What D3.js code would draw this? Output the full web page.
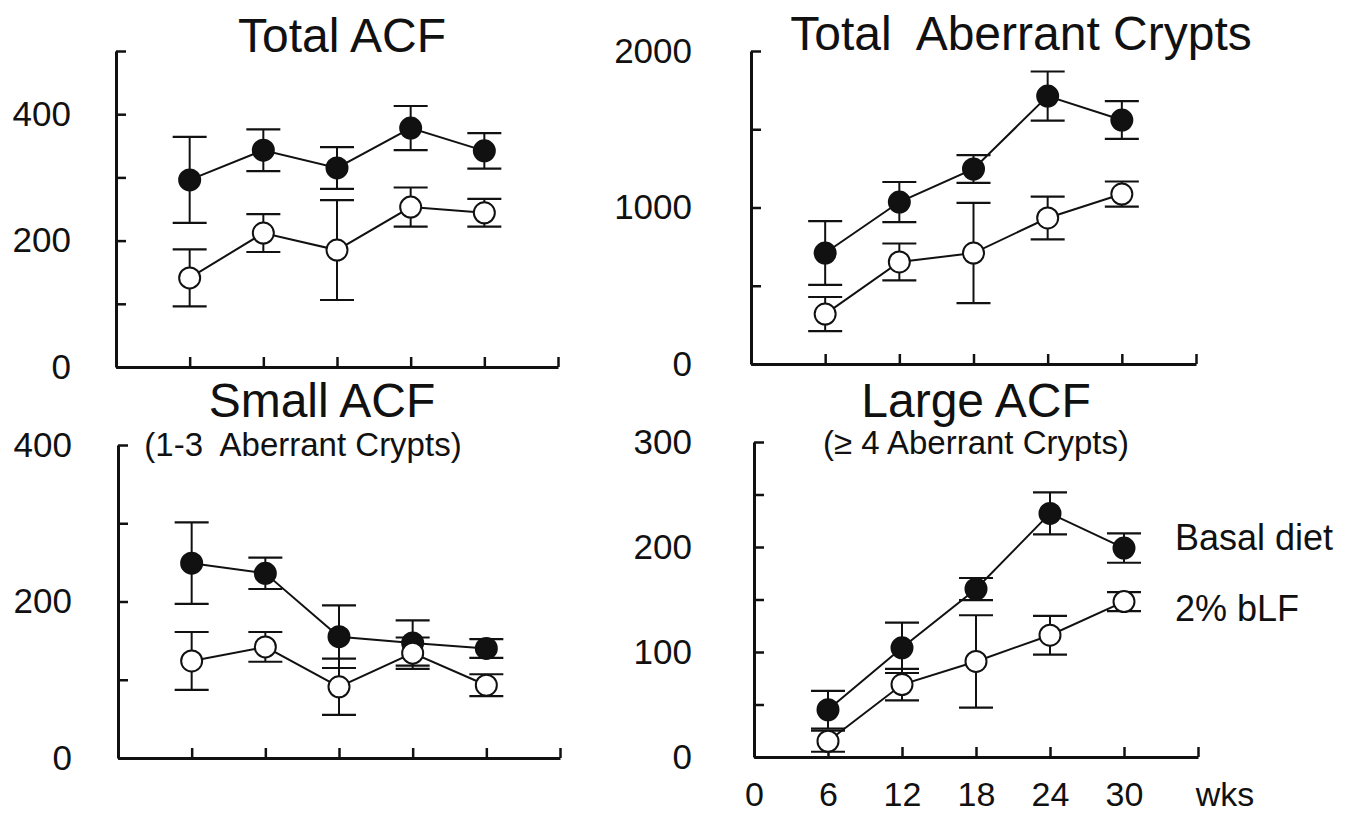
<!DOCTYPE html>
<html>
<head>
<meta charset="utf-8">
<script src="https://cdn.jsdelivr.net/npm/d3@7"></script>
<style>
  html, body { margin: 0; padding: 0; background: #fff; }
  svg { display: block; }
  text { font-family: "Liberation Sans", Arial, Helvetica, sans-serif; fill: #111; }
</style>
</head>
<body>
<svg id="chart" width="1365" height="818"></svg>
<script>
// ---------- data ----------
const weeks = [6, 12, 18, 24, 30];
const seriesNames = ["Basal diet", "2% bLF"];

const totalAcfBasal   = [296, 343, 315, 378, 342];
const totalAcfBasalSd = [68, 33, 33, 35, 28];
const totalAcfBlf     = [141, 212, 185, 253, 244];
const totalAcfBlfSd   = [45, 30, 79, 31, 22];

const totalAcBasal    = [709, 1035, 1246, 1712, 1559];
const totalAcBasalSd  = [204, 128, 89, 157, 121];
const totalAcBlf      = [319, 652, 709, 933, 1086];
const totalAcBlfSd    = [109, 118, 320, 137, 80];

const smallAcfBasal   = [249, 236, 155, 147, 140];
const smallAcfBasalSd = [52, 20, 40, 29, 12];
const smallAcfBlf     = [124, 142, 91, 134, 93];
const smallAcfBlfSd   = [37, 19, 36, 20, 14];

const largeAcfBasal   = [45, 104, 160, 232, 199];
const largeAcfBasalSd = [18, 24, 10.5, 20, 14];
const largeAcfBlf     = [15, 69, 91, 116, 148];
const largeAcfBlfSd   = [10, 15, 44, 18.5, 9];

const xTickValues = [6, 12, 18, 24, 30, 36];
const xLabelValues = [0, 6, 12, 18, 24, 30];

// ---------- layout ----------
const panels = [
  { title: "Total ACF", sub: null, basal: totalAcfBasal, basalSd: totalAcfBasalSd, blf: totalAcfBlf, blfSd: totalAcfBlfSd,
    yMax: 500, yStep: 100, yLabels: [0, 200, 400],
    x0: 116, x1: 558, y0: 367, y1: 51, labelPad: 45, titleX: 342, titleY: 52, subY: 0 },
  { title: "Total  Aberrant Crypts", sub: null, basal: totalAcBasal, basalSd: totalAcBasalSd, blf: totalAcBlf, blfSd: totalAcBlfSd,
    yMax: 2000, yStep: 500, yLabels: [0, 1000, 2000],
    x0: 751, x1: 1196, y0: 364, y1: 51, labelPad: 59, titleX: 1021, titleY: 50, subY: 0 },
  { title: "Small ACF", sub: "(1-3  Aberrant Crypts)", basal: smallAcfBasal, basalSd: smallAcfBasalSd, blf: smallAcfBlf, blfSd: smallAcfBlfSd,
    yMax: 400, yStep: 100, yLabels: [0, 200, 400],
    x0: 118, x1: 560, y0: 758, y1: 445, labelPad: 46, titleX: 322, titleY: 417, subX: 303, subY: 456 },
  { title: "Large ACF", sub: "(\u2265 4 Aberrant Crypts)", basal: largeAcfBasal, basalSd: largeAcfBasalSd, blf: largeAcfBlf, blfSd: largeAcfBlfSd,
    yMax: 300, yStep: 50, yLabels: [0, 100, 200, 300],
    x0: 754, x1: 1198, y0: 757, y1: 442, labelPad: 62, titleX: 976, titleY: 417, subX: 976, subY: 454, xLabels: true }
];

const svg = d3.select("#chart");
svg.append("rect").attr("width", 1365).attr("height", 818).attr("fill", "#fff");

panels.forEach(p => {
  const g = svg.append("g");
  const x = d3.scaleLinear().domain([0, 36]).range([p.x0, p.x1]);
  const y = d3.scaleLinear().domain([0, p.yMax]).range([p.y0, p.y1]);

  // y axis
  const yTicks = d3.range(0, p.yMax + p.yStep / 2, p.yStep);
  const yAxis = d3.axisLeft(y).tickValues(yTicks).tickSizeInner(-10).tickSizeOuter(0)
    .tickPadding(p.labelPad)
    .tickFormat(v => p.yLabels.includes(v) ? String(v) : "");
  const ya = g.append("g").attr("transform", `translate(${p.x0},0)`).call(yAxis);
  ya.select(".domain").attr("stroke", "#111").attr("stroke-width", 3);
  ya.selectAll(".tick line").attr("stroke", "#111").attr("stroke-width", 2.5);
  ya.selectAll(".tick text").attr("font-size", 35).attr("fill", "#111")
    .attr("font-family", '"Liberation Sans", Arial, sans-serif');

  // x axis
  const xAxis = d3.axisBottom(x).tickValues(xTickValues).tickSizeInner(-10).tickSizeOuter(0).tickFormat("");
  const xa = g.append("g").attr("transform", `translate(0,${p.y0})`).call(xAxis);
  xa.select(".domain").attr("stroke", "#111").attr("stroke-width", 3);
  xa.selectAll(".tick line").attr("stroke", "#111").attr("stroke-width", 2.5);

  if (p.xLabels) {
    const xl = g.append("g").attr("transform", `translate(0,${p.y0})`)
      .call(d3.axisBottom(x).tickValues(xLabelValues).tickSize(0).tickPadding(25).tickFormat(d3.format("d")));
    xl.select(".domain").remove();
    xl.selectAll(".tick text").attr("font-size", 34).attr("fill", "#111")
      .attr("font-family", '"Liberation Sans", Arial, sans-serif');
    g.append("text").attr("x", 1225).attr("y", p.y0 + 25).attr("dy", "0.71em")
      .attr("text-anchor", "middle").attr("font-size", 34).text("wks");
  }

  // title
  g.append("text").attr("x", p.titleX).attr("y", p.titleY).attr("text-anchor", "middle")
    .attr("font-size", 48).style("white-space", "pre").text(p.title);
  if (p.sub) {
    g.append("text").attr("x", p.subX).attr("y", p.subY).attr("text-anchor", "middle")
      .attr("font-size", 33).style("white-space", "pre").text(p.sub);
  }

  const series = [
    { vals: p.basal, sd: p.basalSd, fill: "#111" },
    { vals: p.blf, sd: p.blfSd, fill: "#fff" }
  ];
  const line = d3.line().x((d, i) => x(weeks[i])).y(d => y(d));

  series.forEach(s => {
    g.append("path").attr("d", line(s.vals)).attr("fill", "none")
      .attr("stroke", "#111").attr("stroke-width", 2);
  });
  series.forEach(s => {
    const eb = g.append("g");
    s.vals.forEach((v, i) => {
      const cx = x(weeks[i]);
      const yt = y(v + s.sd[i]), yb = y(v - s.sd[i]);
      eb.append("line").attr("x1", cx).attr("x2", cx).attr("y1", yt).attr("y2", yb)
        .attr("stroke", "#111").attr("stroke-width", 2);
      [yt, yb].forEach(yy => eb.append("line").attr("x1", cx - 17).attr("x2", cx + 17)
        .attr("y1", yy).attr("y2", yy).attr("stroke", "#111").attr("stroke-width", 2.2));
    });
  });
  series.forEach(s => {
    g.selectAll(null).data(s.vals).enter().append("circle")
      .attr("cx", (d, i) => x(weeks[i])).attr("cy", d => y(d)).attr("r", 10.5)
      .attr("fill", s.fill).attr("stroke", "#111").attr("stroke-width", 2);
  });

  if (p.xLabels) {
    g.append("text").attr("x", 1175).attr("y", 550).attr("font-size", 36).text(seriesNames[0]);
    g.append("text").attr("x", 1175).attr("y", 621).attr("font-size", 36).text(seriesNames[1]);
  }
});
</script>
</body>
</html>
